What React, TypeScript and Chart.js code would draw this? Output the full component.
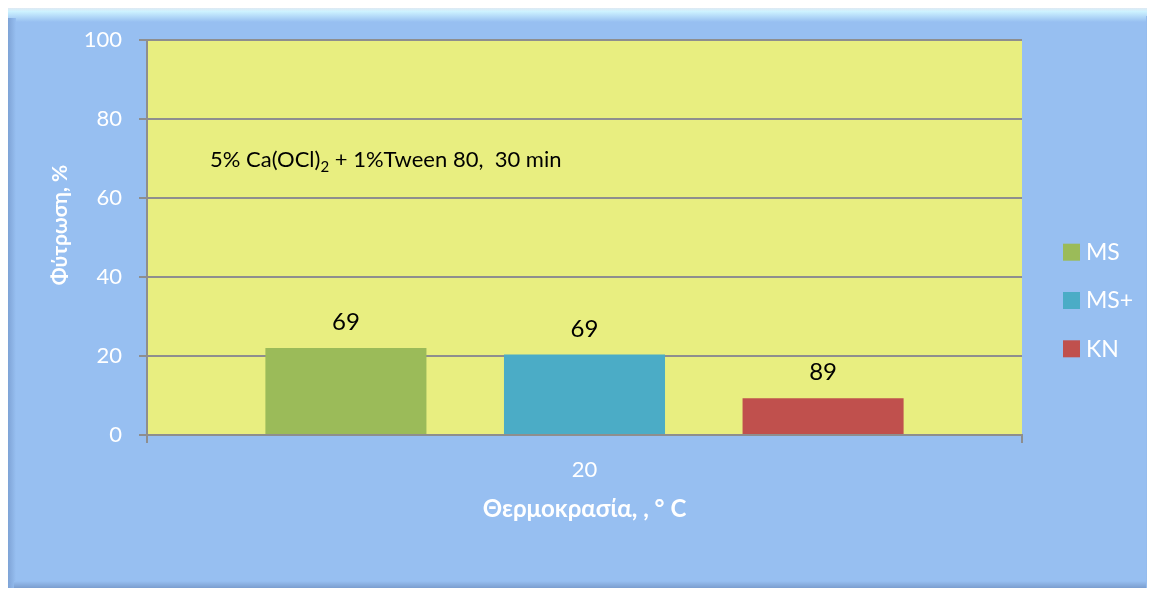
import React, { useEffect, useRef } from "react";
import { Chart, registerables } from "chart.js";

Chart.register(...registerables);

const categories = ["20"];
const seriesNames = ["MS", "MS+", "KN"];
const msValues = [22];
const msPlusValues = [20.4];
const knValues = [9.3];
const seriesColors = ["#9BBB59", "#4BACC6", "#C0504D"];
const barLabels = ["69", "69", "89"];
const yTickMin = 0;
const yTickMax = 100;
const yTickStep = 20;
const xTitle = "Θερμοκρασία, , ° C";
const yTitle = "Φύτρωση, %";
const noteMain = "5% Ca(OCl)";
const noteSub = "2";
const noteRest = " + 1%Tween 80,  30 min";

const FONT = "Lato, 'Open Sans', sans-serif";
const OUTER = "#97BFF1";
const PLOT = "#E8EE80";
const GRID = "#8E8E8E";

const decorPlugin = {
  id: "decor",
  beforeDraw(chart: any) {
    const { ctx, width, height, chartArea } = chart;
    ctx.save();
    ctx.fillStyle = OUTER;
    ctx.fillRect(0, 0, width, height);
    let g = ctx.createLinearGradient(0, 0, 0, 14);
    g.addColorStop(0, "#dfe9f3");
    g.addColorStop(0.25, "#cdf2ff");
    g.addColorStop(1, OUTER);
    ctx.fillStyle = g;
    ctx.fillRect(0, 0, width, 14);
    g = ctx.createLinearGradient(0, 0, 8, 0);
    g.addColorStop(0, "#7ea3d6");
    g.addColorStop(1, OUTER);
    ctx.fillStyle = g;
    ctx.fillRect(0, 10, 8, height - 10);
    g = ctx.createLinearGradient(width - 6, 0, width, 0);
    g.addColorStop(0, OUTER);
    g.addColorStop(1, "#7b9ecf");
    ctx.fillStyle = g;
    ctx.fillRect(width - 6, 8, 6, height - 8);
    g = ctx.createLinearGradient(0, height - 7, 0, height);
    g.addColorStop(0, OUTER);
    g.addColorStop(1, "#7b9ecf");
    ctx.fillStyle = g;
    ctx.fillRect(6, height - 7, width - 12, 7);
    ctx.fillStyle = PLOT;
    ctx.fillRect(chartArea.left, chartArea.top, chartArea.right - chartArea.left, chartArea.bottom - chartArea.top);
    ctx.restore();
  },
  afterDatasetsDraw(chart: any) {
    const { ctx, chartArea } = chart;
    ctx.save();
    ctx.fillStyle = "#000";
    ctx.font = `24px ${FONT}`;
    ctx.textAlign = "center";
    ctx.textBaseline = "middle";
    chart.data.datasets.forEach((ds: any, i: number) => {
      const meta = chart.getDatasetMeta(i);
      meta.data.forEach((el: any) => {
        ctx.fillText(barLabels[i], el.x, el.y - 25.5);
      });
    });
    ctx.textAlign = "left";
    ctx.font = `22px ${FONT}`;
    let x = chartArea.left + 63;
    const y = 152;
    ctx.fillText(noteMain, x, y);
    x += ctx.measureText(noteMain).width;
    ctx.font = `15px ${FONT}`;
    ctx.fillText(noteSub, x, y + 7);
    x += ctx.measureText(noteSub).width;
    ctx.font = `22px ${FONT}`;
    ctx.fillText(noteRest, x, y);
    ctx.save();
    ctx.translate(52, 217);
    ctx.rotate(-Math.PI / 2);
    ctx.fillStyle = "#fff";
    ctx.font = `bold 21px ${FONT}`;
    ctx.textAlign = "center";
    ctx.fillText(yTitle, 0, 0);
    ctx.restore();
    const legendX = 1055;
    const legendY = [243.7, 292, 340.3];
    chart.data.datasets.forEach((ds: any, i: number) => {
      ctx.fillStyle = ds.backgroundColor;
      ctx.fillRect(legendX, legendY[i] - 8, 17, 17);
      ctx.fillStyle = "#fff";
      ctx.font = `23px ${FONT}`;
      ctx.textAlign = "left";
      ctx.fillText(ds.label, legendX + 23, legendY[i] + 1);
    });
    ctx.restore();
  },
};

export default function App() {
  const ref = useRef<HTMLCanvasElement>(null);
  useEffect(() => {
    if (!ref.current) return;
    const values = [msValues, msPlusValues, knValues];
    const chart = new Chart(ref.current, {
      type: "bar",
      data: {
        labels: categories,
        datasets: seriesNames.map((name, i) => ({
          label: name,
          data: values[i],
          backgroundColor: seriesColors[i],
          borderWidth: 0,
          barPercentage: 0.675,
          categoryPercentage: 0.818,
        })),
      },
      options: {
        responsive: false,
        animation: false,
        devicePixelRatio: 1,
        layout: { padding: { top: 32, right: 130, bottom: 0, left: 0 } },
        plugins: {
          legend: { display: false },
          title: { display: false },
          tooltip: { enabled: false },
        },
        scales: {
          x: {
            afterFit: (s: any) => {
              s.height = 153;
            },
            grid: {
              drawOnChartArea: false,
              drawTicks: true,
              tickLength: 8,
              color: GRID,
              lineWidth: 2,
            },
            border: { display: true, color: GRID, width: 2 },
            ticks: {
              color: "#fff",
              font: { family: FONT, size: 22 },
              padding: 14,
            },
            title: {
              display: true,
              text: xTitle,
              color: "#fff",
              font: { family: FONT, size: 24, weight: "bold" },
              padding: { top: 0, bottom: 64 },
            },
          },
          y: {
            min: yTickMin,
            max: yTickMax,
            afterFit: (s: any) => {
              s.width = 139;
            },
            ticks: {
              stepSize: yTickStep,
              color: "#fff",
              font: { family: FONT, size: 22 },
              padding: 17,
            },
            grid: {
              color: GRID,
              lineWidth: 2,
              tickLength: 8,
            },
            border: { display: true, color: GRID, width: 2 },
          },
        },
      },
      plugins: [decorPlugin],
    });
    return () => chart.destroy();
  }, []);
  return (
    <div style={{ width: 1144, height: 580 }}>
      <canvas ref={ref} width={1144} height={580} style={{ display: "block" }} />
    </div>
  );
}
